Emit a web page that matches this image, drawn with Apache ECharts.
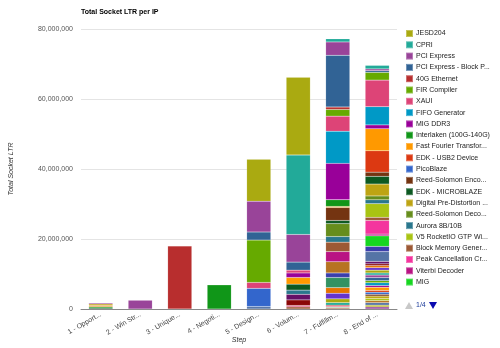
<!DOCTYPE html>
<html>
<head>
<meta charset="utf-8">
<script src="https://cdn.jsdelivr.net/npm/echarts@6/dist/echarts.min.js"></script>
<style>html,body{margin:0;padding:0;background:#fff}#c{width:500px;height:348px}</style>
</head>
<body>
<div id="c"></div>
<script>
// Categories (x axis)
const categories = ['1 - Opport...', '2 - Win Str...', '3 - Unique...', '4 - Negoti...', '5 - Design...', '6 - Volum...', '7 - Fulfillm...', '8 - End of ...'];

// Y axis ticks
const yTicks = [0, 20000000, 40000000, 60000000, 80000000];

// Legend names, top of stack first (visible first legend page)
const legendNames = ['JESD204', 'CPRI', 'PCI Express', 'PCI Express - Block P...', '40G Ethernet', 'FIR Compiler', 'XAUI', 'FIFO Generator', 'MIG DDR3', 'Interlaken (100G-140G)', 'Fast Fourier Transfor...', 'EDK - USB2 Device', 'PicoBlaze', 'Reed-Solomon Enco...', 'EDK - MICROBLAZE', 'Digital Pre-Distortion ...', 'Reed-Solomon Deco...', 'Aurora 8B/10B', 'V5 RocketIO GTP Wi...', 'Block Memory Gener...', 'Peak Cancellation Cr...', 'Viterbi Decoder', 'MIG'];

// Legend pager text
const pagerText = '1/4';

// Names of the series on the (unseen) later legend pages
const otherCount = 52;
const otherNames = Array.from({length: otherCount}, (_, i) => 'Other IP ' + (i + 1));

// Palette (series i uses palette[i % 31])
const palette = ['#3366cc','#dc3912','#ff9900','#109618','#990099','#0099c6','#dd4477','#66aa00','#b82e2e','#316395','#994499','#22aa99','#aaaa11','#6633cc','#e67300','#8b0707','#651067','#329262','#5574a6','#3b3eac','#b77322','#16d620','#b91383','#f4359e','#9c5935','#a9c413','#2a778d','#668d1c','#bea413','#0c5922','#743411'];

// Values in millions per step: [seriesIndex (0 = bottom of stack), [step1..step8]]
const ltrMillions = [
  [74, [0, 0, 0, 0, 12.0, 22.2, 0, 0]],
  [73, [0, 0, 0, 0, 0, 22.7, 0.9, 1.0]],
  [72, [0.3, 2.5, 0, 0, 8.8, 7.9, 3.8, 0.5]],
  [71, [0, 0, 0, 0, 2.3, 2.3, 14.8, 0.5]],
  [70, [0, 0, 18.0, 0, 0, 0, 0.7, 0]],
  [69, [0, 0, 0, 0, 12.1, 0, 1.9, 2.2]],
  [68, [0, 0, 0, 0, 1.7, 0.8, 4.3, 7.6]],
  [67, [0, 0, 0, 0, 0, 0, 9.2, 5.2]],
  [66, [0, 0, 0, 0, 0, 1.3, 10.4, 1.1]],
  [65, [0, 0, 0, 6.9, 0, 0, 1.9, 0]],
  [64, [0, 0, 0, 0, 0, 1.9, 0.3, 6.3]],
  [63, [0, 0, 0, 0, 0, 0, 0, 6.1]],
  [62, [0, 0, 0, 0, 5.2, 0, 0, 0]],
  [61, [0, 0, 0, 0, 0, 0, 3.7, 1.2]],
  [60, [0, 0, 0, 0, 0, 1.7, 0.9, 2.2]],
  [59, [0.45, 0, 0, 0, 0, 0, 0, 3.4]],
  [58, [0, 0, 0, 0, 0, 0, 3.7, 1.1]],
  [57, [0, 0, 0, 0, 0, 1.2, 1.6, 1.1]],
  [56, [0, 0, 0, 0, 0, 0, 0, 3.9]],
  [55, [0, 0, 0, 0, 0, 0, 2.7, 0.9]],
  [54, [0, 0, 0, 0, 0, 0, 0, 3.9]],
  [53, [0, 0, 0, 0, 0, 0, 2.9, 0.5]],
  [52, [0, 0, 0, 0, 0, 0, 0, 3.0]],
  [51, [0, 0, 0, 0, 0, 0, 3.2, 0]],
  [50, [0, 0, 0, 0, 0, 0, 1.3, 1.5]],
  [49, [0, 0, 0, 0, 0.7, 0, 0, 2.8]],
  [48, [0, 0, 0, 0, 0, 0, 2.9, 0]],
  [47, [0, 0, 0, 0, 0, 1.6, 0, 0.7]],
  [46, [0, 0, 0, 0, 0, 1.6, 0, 0.5]],
  [45, [0.35, 0, 0, 0, 0, 0, 1.6, 0.6]],
  [44, [0, 0, 0, 0, 0, 0, 1.6, 0.7]],
  [43, [0, 0, 0, 0, 0, 0, 1.1, 0.8]],
  [42, [0, 0, 0, 0, 0, 0, 0.7, 0.6]],
  [41, [0, 0, 0, 0, 0, 0, 0, 0.7]],
  [40, [0, 0, 0, 0, 0, 0, 0, 0.9]],
  [39, [0, 0, 0, 0, 0, 0, 0.3, 0]],
  [38, [0, 0, 0, 0, 0, 0, 0, 0.6]],
  [37, [0, 0, 0, 0, 0, 0.4, 0.3, 0]],
  [36, [0, 0, 0, 0, 0, 0, 0, 0.8]],
  [35, [0, 0, 0, 0, 0, 0, 0, 0.5]],
  [34, [0.35, 0, 0, 0, 0, 0, 0.2, 0]],
  [33, [0, 0, 0, 0, 0, 0, 0, 0.9]],
  [32, [0, 0, 0, 0, 0, 0, 0, 0.5]],
  [31, [0, 0, 0, 0, 0, 0, 0, 0.6]],
  [30, [0, 0, 0, 0, 0, 0, 0, 0.5]],
  [29, [0.3, 0, 0, 0, 0, 0, 0, 0]],
  [28, [0, 0, 0, 0, 0, 0, 0, 0.7]],
  [25, [0, 0, 0, 0, 0, 0, 0, 0.6]],
  [24, [0, 0, 0, 0, 0, 0.6, 0.3, 0]],
  [20, [0, 0, 0, 0, 0, 0, 0, 0.6]],
  [18, [0, 0, 0, 0, 0, 0, 0, 0.7]],
  [12, [0, 0, 0, 0, 0, 0, 0, 0.5]],
  [10, [0, 0, 0, 0, 0, 0, 0, 0.6]]
];

const TOTAL = otherCount + legendNames.length; // 75 series
const FONT = 'Liberation Sans, Arial, sans-serif';

function nameOf(i) { return i < otherCount ? otherNames[i] : legendNames[TOTAL - 1 - i]; }

const valueByIndex = {};
ltrMillions.forEach(([idx, vals]) => { valueByIndex[idx] = vals; });

const series = [];
for (let i = 0; i < TOTAL; i++) {
  const vals = valueByIndex[i] || categories.map(() => 0);
  series.push({
    type: 'bar',
    name: nameOf(i),
    stack: 'total',
    barWidth: '61%',
    itemStyle: { color: palette[i % palette.length], borderColor: 'rgba(255,255,255,0.3)', borderWidth: 0.4 },
    emphasis: { disabled: true },
    data: vals.map(v => v ? v * 1e6 : null)
  });
}

const chart = echarts.init(document.getElementById('c'), null, { renderer: 'canvas' });
chart.setOption({
  animation: false,
  color: palette,
  textStyle: { fontFamily: FONT },
  title: {
    text: 'Total Socket LTR per IP',
    left: 81, top: 9, padding: 0,
    textStyle: { fontSize: 7, fontWeight: 'bold', color: '#000', fontFamily: FONT }
  },
  grid: { left: 81, right: 103, top: 29, bottom: 39, containLabel: false, outerBoundsMode: 'none' },
  legend: {
    type: 'plain',
    orient: 'vertical',
    left: 405, top: 29, padding: 0,
    itemWidth: 7, itemHeight: 7, itemGap: 2.3,
    icon: 'rect',
    data: legendNames,
    textStyle: { fontSize: 7, color: '#222', fontFamily: FONT, padding: [0, 0, 0, -2] },
    selectedMode: false
  },
  graphic: [
    { type: 'polygon', shape: { points: [[409, 302], [413, 309], [405, 309]] }, style: { fill: '#c8c8c8' } },
    { type: 'text', left: 416, top: 302, style: { text: pagerText, fill: '#1a3a99', font: '7px ' + FONT } },
    { type: 'polygon', shape: { points: [[429, 302], [437, 302], [433, 309]] }, style: { fill: '#0b0bb0' } }
  ],
  xAxis: {
    type: 'category',
    data: categories,
    name: 'Step',
    nameLocation: 'middle',
    nameGap: 28,
    nameMoveOverlap: false,
    nameTextStyle: { fontSize: 7, fontStyle: 'italic', color: '#333', fontFamily: FONT },
    axisLine: { lineStyle: { color: '#888' } },
    axisTick: { show: false },
    axisLabel: { rotate: 30, interval: 0, fontSize: 7, color: '#444', margin: 5, fontFamily: FONT }
  },
  yAxis: {
    type: 'value',
    min: yTicks[0], max: yTicks[yTicks.length - 1], interval: yTicks[1] - yTicks[0],
    name: 'Total Socket LTR',
    nameLocation: 'middle',
    nameGap: 66,
    nameMoveOverlap: false,
    nameTextStyle: { fontSize: 7, fontStyle: 'italic', color: '#333', fontFamily: FONT },
    axisLine: { show: false },
    axisTick: { show: false },
    splitLine: { lineStyle: { color: '#e4e4e4' } },
    axisLabel: { fontSize: 7, color: '#555', margin: 8, fontFamily: FONT, formatter: v => v.toLocaleString('en-US') }
  },
  series: series
});
</script>
</body>
</html>
